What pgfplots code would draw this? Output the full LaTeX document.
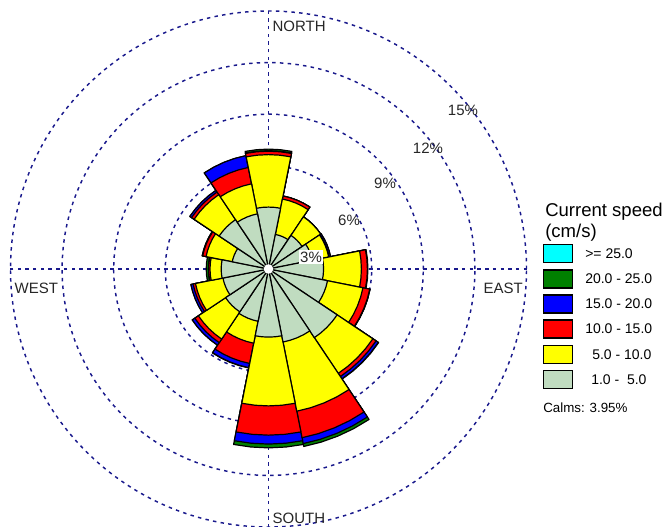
\documentclass[border=0pt]{standalone}
\usepackage{fontspec}
\setmainfont{Liberation Sans}
\usepackage{pgfplots}
\pgfplotsset{compat=1.18}
\usepgfplotslibrary{polar}
\usepackage{pgfplotstable}
\definecolor{cgray}{RGB}{192,220,192}
\definecolor{cgreen}{RGB}{0,128,0}
\definecolor{cblue}{RGB}{0,0,255}
\definecolor{cred}{RGB}{255,0,0}
\definecolor{cyellow}{RGB}{255,255,0}
\definecolor{ccyan}{RGB}{0,255,255}
\definecolor{cnavy}{RGB}{25,25,140}

% compass direction (deg, clockwise from north) and cumulative frequency (%)
% c1: 1-5, c2: +5-10, c3: +10-15, c4: +15-20, c5: +20-25 cm/s
\pgfplotstableread{
dir   c1   c2   c3    c4    c5
0     3.60 6.65 6.85  6.88  6.97
22.5  2.05 4.15 4.33  4.33  4.33
45    2.35 3.65 3.65  3.65  3.65
67.5  2.60 3.57 3.60  3.68  3.68
90    3.20 5.40 5.75  5.75  5.78
112.5 3.50 5.60 6.00  6.02  6.02
135   4.80 7.30 7.52  7.68  7.70
157.5 4.33 8.43 10.00 10.35 10.52
180   3.96 7.96 9.66  10.18 10.40
202.5 3.10 4.40 5.60  5.85  5.87
225   3.00 4.90 5.15  5.33  5.33
247.5 2.70 4.33 4.47  4.60  4.60
270   2.75 3.40 3.48  3.50  3.62
292.5 2.15 3.70 3.90  3.93  3.93
315   3.45 5.20 5.38  5.50  5.50
337.5 3.27 5.05 6.02  6.72  6.72
}\rose

\begin{document}
\begin{tikzpicture}
\begin{polaraxis}[
  width=387pt, height=387pt, scale only axis,
  ymin=0, ymax=15,
  xtick={0,90,180,270},
  ytick={3,6,9,12,15},
  xticklabels={}, yticklabels={},
  xmajorgrids, ymajorgrids,
  major grid style={cnavy, line width=1.1pt, dash pattern=on 2.6pt off 3.2pt},
  axis line style={draw=none},
  major tick style={draw=none},
]
\foreach \col/\clr in {c5/cgreen, c4/cblue, c3/cred, c2/cyellow, c1/cgray}{
  \foreach \i in {0,...,15}{
    \pgfplotstablegetelem{\i}{dir}\of\rose
    \pgfmathsetmacro\m{90-\pgfplotsretval}
    \pgfplotstablegetelem{\i}{\col}\of\rose
    \let\rr\pgfplotsretval
    \pgfmathsetmacro\a{\m-11.25}
    \pgfmathsetmacro\aa{\m-5.625}
    \pgfmathsetmacro\bb{\m+5.625}
    \pgfmathsetmacro\b{\m+11.25}
    \edef\cmd{\noexpand\addplot[fill=\clr, draw=black, line width=0.9pt, line join=round] coordinates {(\a,0) (\a,\rr) (\aa,\rr) (\m,\rr) (\bb,\rr) (\b,\rr) (\b,0)} -- cycle;}
    \cmd
  }
}
\coordinate (C) at (axis cs:0,0);
\end{polaraxis}
\fill[white] (C) circle (3.6pt);
\begin{scope}[shift={(C)}, xshift=-201.375pt, yshift=201.75pt, x=0.75pt, y=-0.75pt]
  \pgfresetboundingbox
  \path[use as bounding box] (0,0) rectangle (663,527);
  \begin{scope}[every node/.style={inner sep=1pt, font=\fontsize{11.25pt}{13pt}\selectfont, text=black!85}]
    \node[anchor=west] at (271,26) {NORTH};
    \node[anchor=west] at (13,288) {WEST};
    \node[anchor=west] at (482,288) {EAST};
    \node[anchor=west] at (271,518) {SOUTH};
    \node[fill=white] at (311,257) {3\%};
    \node at (349,220) {6\%};
    \node at (385,183) {9\%};
    \node at (428,148) {12\%};
    \node at (463,110) {15\%};
  \end{scope}
  \begin{scope}[every node/.style={inner sep=0pt, anchor=west, font=\fontsize{10.5pt}{12pt}\selectfont}]
    \node[font=\fontsize{13.9pt}{16pt}\selectfont] at (545,212) {Current speed};
    \node[font=\fontsize{13.9pt}{16pt}\selectfont] at (545,233) {(cm/s)};
    \foreach \y/\c/\t/\x in {244.5/ccyan/{>= 25.0}/585, 270/cgreen/{20.0 - 25.0}/585, 295/cblue/{15.0 - 20.0}/585, 320/cred/{10.0 - 15.0}/585, 345.5/cyellow/{5.0 - 10.0}/592, 370.5/cgray/{1.0 -\ \ 5.0}/591}{
      \filldraw[fill=\c, draw=black, line width=0.9pt] (543.5,\y) rectangle (572.5,\y+18);
      \node at (\x,\y+9) {\t};
    }
    \node[font=\fontsize{10pt}{12pt}\selectfont] at (543,408) {Calms: 3.95\%};
  \end{scope}
\end{scope}
\end{tikzpicture}
\end{document}
